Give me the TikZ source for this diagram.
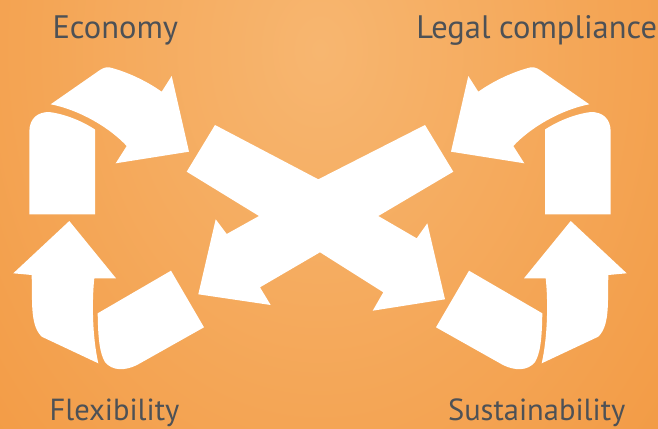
\documentclass[tikz,border=0pt]{standalone}
\usepackage{fontspec}
\setmainfont{PT Sans}
\definecolor{bgin}{RGB}{247,182,112}
\definecolor{bgout}{RGB}{239,137,40}
\definecolor{labelgray}{RGB}{77,81,86}
\tikzset{
  shapefill/.style={fill=white, draw=none},
  label text/.style={text=labelgray, font=\fontsize{32.5}{32.5}\selectfont, anchor=base, inner sep=0pt},
  bottom label/.style={label text, font=\fontsize{30.5}{30.5}\selectfont}
}
\newcommand{\halfshapes}{%
  % curved arrow (top)
  \fill[shapefill] (50.7,104.3) -- (100,70) .. controls (104,67.3) and (108,66.5) .. (112,68)
     .. controls (130,73) and (148,82) .. (161.7,91.7) -- (171.7,76) -- (189,151.7)
     -- (115.7,163.3) -- (126.7,146) .. controls (110,128) and (80,110) .. (50.7,104.3) -- cycle;
  % rounded block
  \fill[shapefill] (29.3,214.3) -- (29.3,132) .. controls (29.3,118) and (38,112) .. (49,112)
     .. controls (65,114) and (82,121) .. (95,129.5) -- (95,214.3) -- cycle;
  % up arrow
  \fill[shapefill] (69.3,221) -- (116,278.3) -- (94.3,278.3)
     .. controls (92,300) and (92,335) .. (98.3,363.3) -- (41.7,336.7)
     .. controls (35,330) and (32.3,320) .. (32,300) -- (31.7,275) -- (13.3,273.3) -- cycle;
  % tail piece
  \fill[shapefill] (97.7,313.3) -- (171,270.7) -- (204,327.3) -- (137,365)
     .. controls (125,371) and (112,371) .. (105,362)
     .. controls (100,354) and (98,340) .. (97.7,313.3) -- cycle;
}
\begin{document}
\begin{tikzpicture}[x=1pt, y=-1pt]
\useasboundingbox (0,0) rectangle (658,428);
\begin{scope}
  \clip (0,0) rectangle (658,428);
  \shade[inner color=bgin, outer color=bgout] (320,50) ellipse [x radius=760, y radius=1000];
\end{scope}
% left side
\halfshapes
% right side (mirrored)
\begin{scope}[xshift=640pt, xscale=-1]
  \halfshapes
\end{scope}
% central X
\fill[shapefill] (215,125) -- (318.3,179.3) -- (425,125) -- (453.3,171.7) -- (378.3,216)
  -- (416.7,238.3) -- (427.3,223.3) -- (445,299.3) -- (372.7,310.7) -- (383.3,292.3)
  -- (320,252.3) -- (260,287.3) -- (270.7,305) -- (198.3,294.3) -- (215.7,219.3)
  -- (226.7,234) -- (259,216) -- (186.7,171.7) -- cycle;
% labels
\node[label text] (economy) at (115.3,38.3) {Economy};
\node[label text] (legal) at (536.7,38.3) {Legal compliance};
\node[bottom label] (flex) at (114.5,420.3) {Flexibility};
\node[bottom label] (sust) at (536.7,420.3) {Sustainability};
\end{tikzpicture}
\end{document}
